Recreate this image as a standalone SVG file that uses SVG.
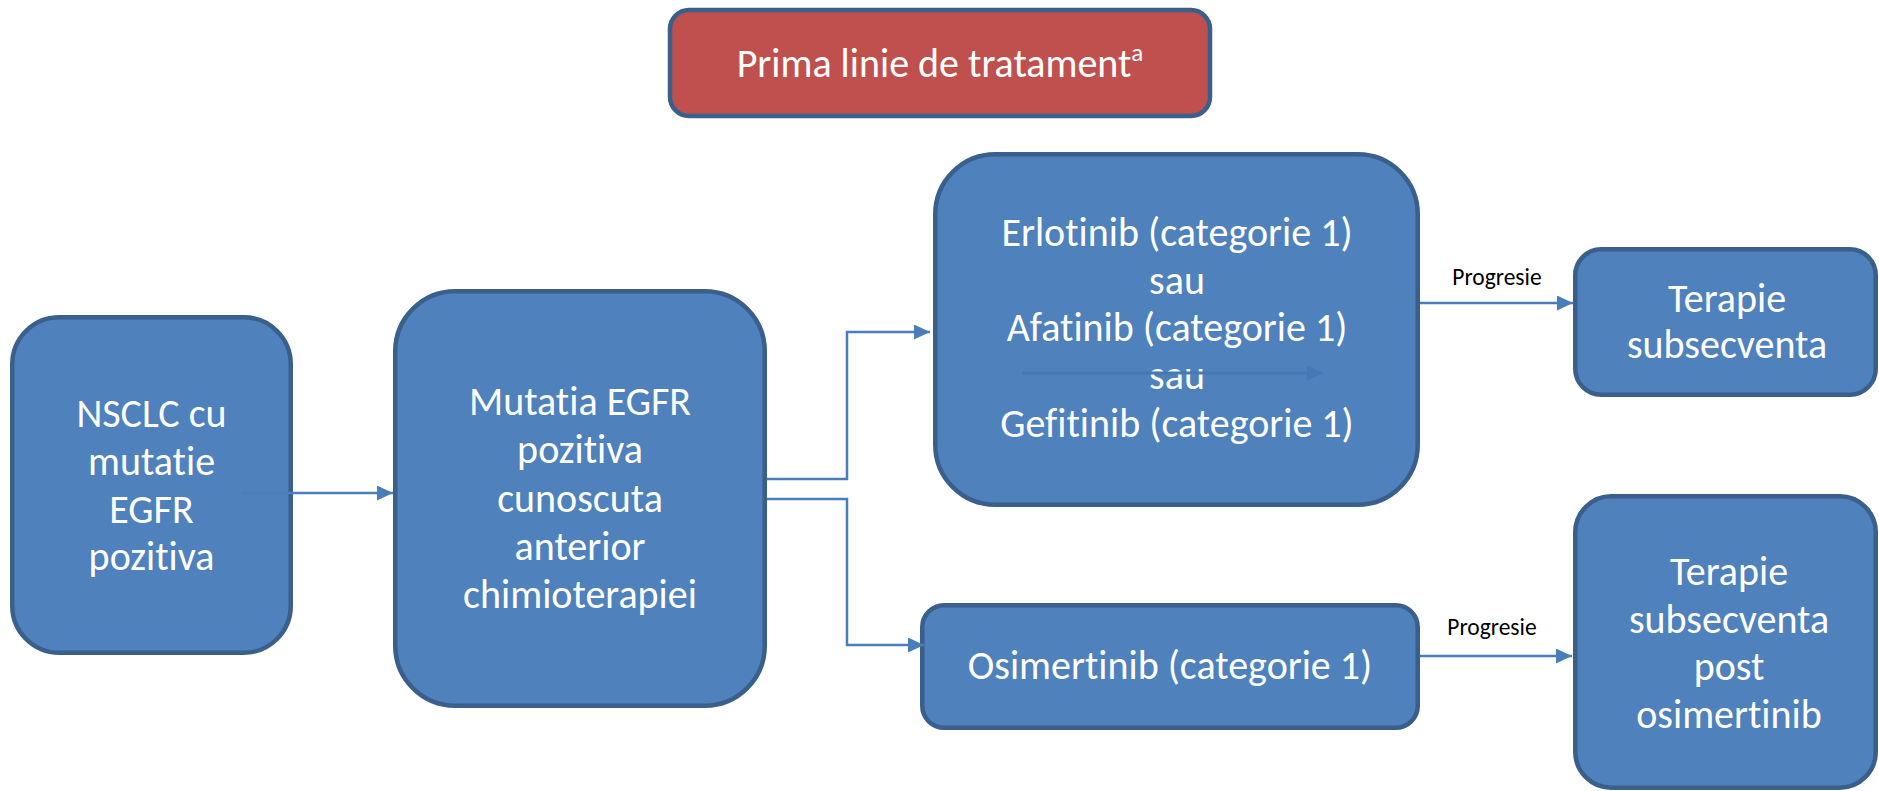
<svg xmlns="http://www.w3.org/2000/svg" width="1879" height="791" viewBox="0 0 1879 791">
<style>
  .box { fill: #4f81bd; stroke: #3a5f8b; stroke-width: 4.5; }
  .red { fill: #c0504d; stroke: #3a5f8b; stroke-width: 4.5; }
  text { font-variant-ligatures: none; font-feature-settings: "liga" 0, "clig" 0; }
  .t { font-family: Carlito, Calibri, Lato, sans-serif; font-size: 40px; fill: #ffffff; text-anchor: middle; }
  .lbl { font-family: Carlito, Calibri, Lato, sans-serif; font-size: 23.5px; fill: #000000; text-anchor: middle; }
  .conn { fill: none; stroke: #4a7ebb; stroke-width: 2.5; marker-end: url(#arr); }
  .stray { fill: none; stroke: #4678b6; stroke-width: 3; marker-end: url(#arr2); }
</style>
<defs>
  <marker id="arr" markerUnits="userSpaceOnUse" markerWidth="16" markerHeight="16" refX="16" refY="7.5" orient="auto">
    <path d="M0,0 L16,7.5 L0,15 z" fill="#4a7ebb"/>
  </marker>
  <marker id="arr2" markerUnits="userSpaceOnUse" markerWidth="16" markerHeight="16" refX="16" refY="7.5" orient="auto">
    <path d="M0,0 L16,7.5 L0,15 z" fill="#4678b6"/>
  </marker>
</defs>
<rect width="1879" height="791" fill="#ffffff"/>

<g id="title">
  <rect class="red" x="670" y="10" width="540" height="106" rx="19"/>
  <text class="t" x="940" y="77">Prima linie de tratament<tspan font-size="25" dy="-16">a</tspan></text>
</g>

<g id="nsclc">
  <rect class="box" x="12.25" y="317.25" width="278.5" height="335.5" rx="47"/>
  <text class="t" x="151.5" y="427">NSCLC cu</text>
  <text class="t" x="151.5" y="475">mutatie</text>
  <text class="t" x="151.5" y="523">EGFR</text>
  <text class="t" x="151.5" y="570">pozitiva</text>
</g>

<g id="mutatia">
  <rect class="box" x="395.25" y="291.25" width="369.5" height="414.5" rx="60"/>
  <text class="t" x="580" y="415">Mutatia EGFR</text>
  <text class="t" x="580" y="463">pozitiva</text>
  <text class="t" x="580" y="512">cunoscuta</text>
  <text class="t" x="580" y="560">anterior</text>
  <text class="t" x="580" y="608">chimioterapiei</text>
</g>

<g id="erlotinib">
  <rect class="box" x="935.25" y="154.25" width="482.5" height="350.5" rx="60"/>
  <text class="t" x="1177" y="246">Erlotinib (categorie 1)</text>
  <text class="t" x="1177" y="294">sau</text>
  <text class="t" x="1177" y="341">Afatinib (categorie 1)</text>
  <text class="t" x="1177" y="389">sau</text>
  <text class="t" x="1177" y="437">Gefitinib (categorie 1)</text>
</g>

<g id="osimertinib">
  <rect class="box" x="922.25" y="605.25" width="495.5" height="122.5" rx="22"/>
  <text class="t" x="1170" y="679">Osimertinib (categorie 1)</text>
</g>

<g id="terapie1">
  <rect class="box" x="1575.25" y="249.25" width="300.5" height="145.5" rx="26"/>
  <text class="t" x="1727" y="312">Terapie</text>
  <text class="t" x="1727" y="358">subsecventa</text>
</g>

<g id="terapie2">
  <rect class="box" x="1575.25" y="496.25" width="300.5" height="291.5" rx="36"/>
  <text class="t" x="1729" y="585">Terapie</text>
  <text class="t" x="1729" y="633">subsecventa</text>
  <text class="t" x="1729" y="680">post</text>
  <text class="t" x="1729" y="728">osimertinib</text>
</g>

<g id="connectors">
  <path class="conn" d="M241,493 H393"/>
  <path class="conn" d="M767,479 H847 V332 H930"/>
  <path class="conn" d="M767,499 H847 V645 H924"/>
  <path class="conn" d="M1420,303 H1573"/>
  <path class="conn" d="M1420,656 H1572"/>
  <path class="stray" d="M1022,373 H1323"/>
  <text class="lbl" x="1497" y="285">Progresie</text>
  <text class="lbl" x="1492" y="635">Progresie</text>
</g>
</svg>
